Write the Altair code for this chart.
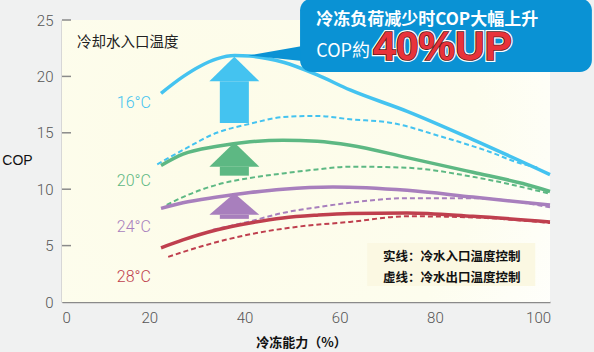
import altair as alt
import pandas as pd

CJK = "Noto Sans CJK SC"
NUM = "Roboto"

# ---------------- data ----------------
series = ["16°C", "20°C", "24°C", "28°C"]
line_colors = ["#44c3f0", "#5db883", "#a87fbd", "#bf3f4e"]

# solid lines (冷水入口温度控制)
blue_solid_x = [20.8, 25.5, 29, 32.5, 36.3, 39.5, 46.5, 53.5, 60.5, 72.5, 86.3, 102.5]
blue_solid_y = [18.5, 20.0, 20.9, 21.55, 21.85, 21.8, 21.25, 20.15, 18.8, 16.9, 14.4, 11.3]
green_solid_x = [20.8, 25.4, 32.6, 39.5, 46.4, 53.6, 60.5, 72.5, 86.3, 96.8, 102.5]
green_solid_y = [12.1, 13.1, 13.8, 14.2, 14.35, 14.25, 13.9, 12.8, 11.5, 10.5, 9.8]
purple_solid_x = [20.8, 25.4, 32.6, 39.5, 46.4, 56.9, 72.5, 86.3, 102.5]
purple_solid_y = [8.3, 8.8, 9.3, 9.7, 10.0, 10.2, 9.9, 9.3, 8.6]
red_solid_x = [20.8, 25.4, 32.6, 39.5, 46.4, 53.6, 60.5, 72.5, 86.3, 102.5]
red_solid_y = [4.8, 5.5, 6.4, 7.0, 7.45, 7.7, 7.85, 7.9, 7.6, 7.1]

# dashed lines (冷水出口温度控制)
blue_dash_x = [20.0, 25.5, 32.5, 39.5, 46.5, 53.5, 60.5, 68.9, 79.4, 89.9, 96.2, 100]
blue_dash_y = [12.2, 13.5, 15.0, 15.8, 16.4, 16.5, 16.2, 15.9, 14.7, 13.3, 12.3, 11.9]
green_dash_x = [22, 25.4, 32.6, 39.5, 46.4, 53.5, 60.5, 72.5, 86.3, 102.5]
green_dash_y = [8.6, 9.3, 10.4, 11.0, 11.4, 11.75, 12.0, 11.9, 11.1, 9.6]
purple_dash_x = [31.7, 39.5, 46.4, 53.6, 60.5, 72.5, 86.3, 102.5]
purple_dash_y = [6.4, 7.15, 7.9, 8.4, 8.8, 9.2, 9.2, 8.4]
red_dash_x = [22.3, 29, 39.5, 50, 60.5, 72.5, 86.3, 102.5]
red_dash_y = [4.0, 4.9, 6.0, 6.7, 7.1, 7.6, 7.5, 7.0]

# improvement arrows
arrow_names = ["16°C", "20°C", "24°C"]
arrow_colors = ["#48c7f3", "#65bd8c", "#ae85bc"]
arrow_tip = [21.75, 14.15, 9.65]
arrow_head_base = [19.57, 12.0, 7.73]
arrow_bottom = [15.87, 11.2, 7.37]
arrow_center = 36.2
arrow_head_half = 5.25
arrow_body_half = 3.05

# labels
label_x = 15.1
label_y = [17.67, 10.75, 6.66, 2.22]

x_ticks = [0, 20, 40, 60, 80, 100]
y_ticks = [0, 5, 10, 15, 20, 25]
X_MAX = 102.5
Y_MAX = 25

# ---------------- tables ----------------
def long(pairs):
    rows = []
    for name, xs, ys in pairs:
        for a, b in zip(xs, ys):
            rows.append({"x": a, "y": b, "series": name})
    return pd.DataFrame(rows)

solid_df = long([
    (series[0], blue_solid_x, blue_solid_y),
    (series[1], green_solid_x, green_solid_y),
    (series[2], purple_solid_x, purple_solid_y),
    (series[3], red_solid_x, red_solid_y),
])
dash_df = long([
    (series[0], blue_dash_x, blue_dash_y),
    (series[1], green_dash_x, green_dash_y),
    (series[2], purple_dash_x, purple_dash_y),
    (series[3], red_dash_x, red_dash_y),
])

body_df = pd.DataFrame({
    "name": arrow_names,
    "x": [arrow_center - arrow_body_half] * 3,
    "x2": [arrow_center + arrow_body_half] * 3,
    "y": arrow_bottom,
    "y2": arrow_head_base,
})
head_rows = []
for n, t, b in zip(arrow_names, arrow_tip, arrow_head_base):
    head_rows += [
        {"name": n, "x": arrow_center - arrow_head_half, "y": b, "y2": b},
        {"name": n, "x": arrow_center, "y": t, "y2": b},
        {"name": n, "x": arrow_center + arrow_head_half, "y": b, "y2": b},
    ]
head_df = pd.DataFrame(head_rows)

label_df = pd.DataFrame({"series": series, "x": [label_x] * 4, "y": label_y})

# ---------------- scales / axes ----------------
xscale = alt.Scale(domain=[0, X_MAX], nice=False, zero=False)
yscale = alt.Scale(domain=[0, Y_MAX], nice=False, zero=False)
color_line = alt.Scale(domain=series, range=line_colors)
color_arrow = alt.Scale(domain=arrow_names, range=arrow_colors)

xaxis = alt.Axis(
    values=x_ticks, tickSize=0, grid=False, labelPadding=8,
    labelFont=NUM, labelFontSize=15, labelFontWeight=300, labelColor="#555555",
    labelOffset={"condition": {"test": "datum.value > 0 && datum.value < 100", "value": -8}, "value": 0},
    domainColor="#8a8a8a", domainWidth=1.5,
    title="冷冻能力（%）", titleFont=CJK, titleFontSize=13, titleFontWeight="bold",
    titleColor="#111111", titleX=239, titleY=40, titleAlign="center", titleBaseline="middle",
)
yaxis = alt.Axis(
    values=y_ticks, tickSize=0, grid=False, labelPadding=9,
    labelFont=NUM, labelFontSize=15, labelFontWeight=300, labelColor="#555555",
    domainColor="#8a8a8a", domainWidth=1.5,
    title="COP", titleFont="Liberation Sans", titleFontSize=14, titleFontWeight="normal",
    titleColor="#111111", titleAngle=0, titleX=-45, titleY=140,
    titleAlign="center", titleBaseline="middle",
)

def X(f="x"):
    return alt.X(f"{f}:Q", scale=xscale, axis=xaxis)

def Y(f="y"):
    return alt.Y(f"{f}:Q", scale=yscale, axis=yaxis)

# ---------------- layers ----------------
bg = alt.Chart(pd.DataFrame({"x": [0], "x2": [X_MAX], "y": [0], "y2": [Y_MAX]})).mark_rect(
    fill={
        "gradient": "radial", "x1": 0.3, "y1": 0.45, "r1": 0.0,
        "x2": 0.3, "y2": 0.45, "r2": 0.85,
        "stops": [
            {"offset": 0, "color": "#fdfce8"},
            {"offset": 0.65, "color": "#fdfdee"},
            {"offset": 1, "color": "#ffffff"},
        ],
    }
).encode(x=X(), x2="x2", y=Y(), y2="y2")

ticks = alt.Chart(pd.DataFrame({"v": y_ticks[1:]})).mark_rule(
    color="#8a8a8a", strokeWidth=1.5
).encode(x=alt.value(0), x2=alt.value(9), y=Y("v"))

legend_box = alt.Chart(pd.DataFrame({"x": [64.1], "x2": [99.4], "y": [1.42], "y2": [5.24]})).mark_rect(
    fill="#fbf8e2"
).encode(x=X(), x2="x2", y=Y(), y2="y2")

dashed = alt.Chart(dash_df).mark_line(
    strokeWidth=2, strokeDash=[5, 3], interpolate="monotone"
).encode(x=X(), y=Y(), color=alt.Color("series:N", scale=color_line, legend=None))

solid = alt.Chart(solid_df).mark_line(
    strokeWidth=3.5, interpolate="monotone"
).encode(x=X(), y=Y(), color=alt.Color("series:N", scale=color_line, legend=None))

bodies = alt.Chart(body_df).mark_rect().encode(
    x=X(), x2="x2", y=Y(), y2="y2",
    color=alt.Color("name:N", scale=color_arrow, legend=None),
)
heads = alt.Chart(head_df).mark_area(interpolate="linear", opacity=1).encode(
    x=X(), y=Y(), y2="y2",
    color=alt.Color("name:N", scale=color_arrow, legend=None),
    detail="name:N",
)

temp_labels = alt.Chart(label_df).mark_text(
    font=NUM, fontSize=16, fontWeight=300, align="center", baseline="middle"
).encode(x=X(), y=Y(), text="series:N",
         color=alt.Color("series:N", scale=color_line, legend=None))

title_in = alt.Chart(pd.DataFrame({"x": [3.15], "y": [23.0], "t": ["冷却水入口温度"]})).mark_text(
    font=CJK, fontSize=14.5, align="left", baseline="middle", color="#222222"
).encode(x=X(), y=Y(), text="t:N")

legend_text = alt.Chart(pd.DataFrame({
    "x": [67.4, 67.4], "y": [4.0, 2.13],
    "t": ["实线：冷水入口温度控制", "虚线：冷水出口温度控制"],
})).mark_text(
    font=CJK, fontSize=12.5, fontWeight="bold", align="left", baseline="middle", color="#111111"
).encode(x=X(), y=Y(), text="t:N")

# callout
pointer = alt.Chart(pd.DataFrame({"x": [39.1, 52.0], "y": [21.85, 22.8], "y2": [21.85, 21.3]})).mark_area(
    color="#0a92d4", interpolate="linear", opacity=1
).encode(x=X(), y=Y(), y2="y2")

box = alt.Chart(pd.DataFrame({"x": [50.0], "x2": [111.3], "y": [20.4], "y2": [26.9]})).mark_rect(
    color="#0a92d4", cornerRadius=12
).encode(x=X(), x2="x2", y=Y(), y2="y2")

callout_l1 = alt.Chart(pd.DataFrame({"x": [53.4], "y": [25.0], "t": ["冷冻负荷减少时COP大幅上升"]})).mark_text(
    font=CJK, fontSize=17, fontWeight="bold", align="left", baseline="middle", color="#ffffff"
).encode(x=X(), y=Y(), text="t:N")

callout_l2 = alt.Chart(pd.DataFrame({"x": [53.4], "y": [22.2], "t": ["COP約"]})).mark_text(
    font=CJK, fontSize=18, align="left", baseline="middle", color="#ffffff"
).encode(x=X(), y=Y(), text="t:N")

big_df = pd.DataFrame({"x": [65.3], "y": [22.55], "t": ["40%UP"]})
big_outer = alt.Chart(big_df).mark_text(
    font="Liberation Sans", fontSize=41, fontWeight="bold", align="left", baseline="middle",
    color="#ffffff", stroke="#ffffff", strokeWidth=4
).encode(x=X(), y=Y(), text="t:N")
big_mid = alt.Chart(big_df).mark_text(
    font="Liberation Sans", fontSize=41, fontWeight="bold", align="left", baseline="middle",
    color="#5a1d1d", stroke="#5a1d1d", strokeWidth=1.6
).encode(x=X(), y=Y(), text="t:N")
big_top = alt.Chart(big_df).mark_text(
    font="Liberation Sans", fontSize=41, fontWeight="bold", align="left", baseline="middle",
    color="#e8333b"
).encode(x=X(), y=Y(), text="t:N")

chart = alt.layer(
    bg, legend_box, ticks, dashed, solid, bodies, heads, temp_labels, title_in, legend_text,
    pointer, box, callout_l1, callout_l2, big_outer, big_mid, big_top,
).properties(
    width=488, height=282,
    background="#f0f1f1",
    padding={"left": 62, "top": 20, "right": 44, "bottom": 50},
    autosize=alt.AutoSizeParams(type="none"),
).configure_view(stroke=None)

chart.save("out.html", embed_options={"renderer": "svg", "actions": False})
